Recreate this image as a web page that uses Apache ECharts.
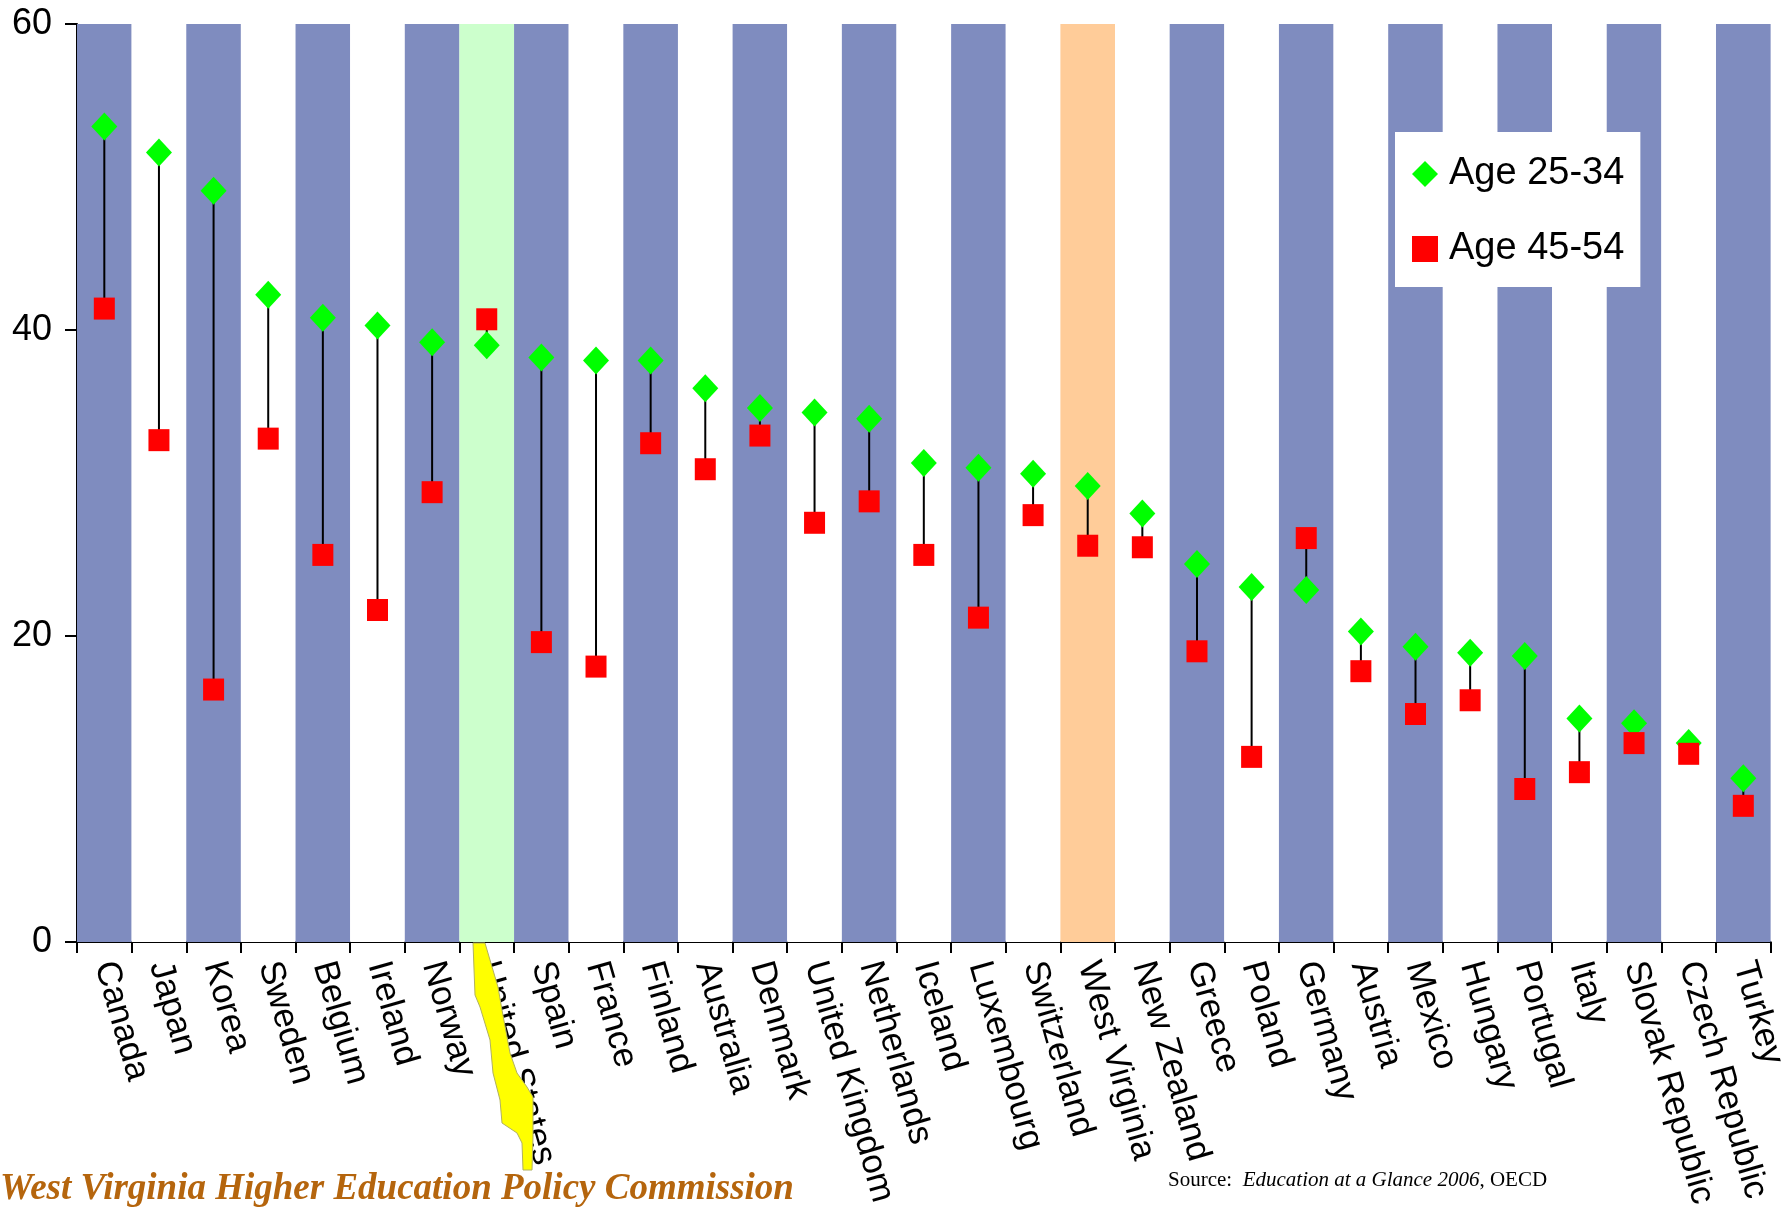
<!DOCTYPE html>
<html>
<head>
<meta charset="utf-8">
<script src="https://cdn.jsdelivr.net/npm/echarts@6/dist/echarts.min.js"></script>
<style>
html,body{margin:0;padding:0;background:#fff;}
#chart{width:1790px;height:1213px;}
</style>
</head>
<body>
<div id="chart"></div>
<script>
const categories = ['Canada','Japan','Korea','Sweden','Belgium','Ireland','Norway','United States','Spain','France','Finland','Australia','Denmark','United Kingdom','Netherlands','Iceland','Luxembourg','Switzerland','West Virginia','New Zealand','Greece','Poland','Germany','Austria','Mexico','Hungary','Portugal','Italy','Slovak Republic','Czech Republic','Turkey'];
const age25to34 = [53.3,51.6,49.1,42.3,40.8,40.3,39.2,39.0,38.2,38.0,38.0,36.2,34.9,34.6,34.2,31.3,31.0,30.6,29.8,28.0,24.7,23.2,23.0,20.3,19.3,18.9,18.7,14.6,14.3,13.0,10.7];
const age45to54 = [41.4,32.8,16.5,32.9,25.3,21.7,29.4,40.7,19.6,18.0,32.6,30.9,33.1,27.4,28.8,25.3,21.2,27.9,25.9,25.8,19.0,12.1,26.4,17.7,14.9,15.8,10.0,11.1,13.0,12.3,8.9];
const yTicks = [0, 20, 40, 60];
const highlightUS = 'United States';
const highlightWV = 'West Virginia';

const yMax = yTicks[yTicks.length - 1];
const bandColor = (name, i) => name === highlightUS ? '#ccffcc' : name === highlightWV ? '#ffcc99' : (i % 2 === 0 ? '#7f8cbf' : '#ffffff');

const chart = echarts.init(document.getElementById('chart'));
chart.setOption({
  animation: false,
  textStyle: {fontFamily: 'Liberation Sans, Arial, sans-serif'},
  grid: {left: 77, right: 14, top: 24, bottom: 271, containLabel: false},
  xAxis: {
    type: 'category',
    data: categories,
    boundaryGap: true,
    axisLine: {lineStyle: {color: '#000', width: 2}},
    axisTick: {show: true, length: 11, lineStyle: {color: '#000', width: 2}},
    axisLabel: {interval: 0, rotate: -74, fontSize: 35, color: '#000', margin: 20, fontFamily: 'Liberation Sans'}
  },
  yAxis: {
    type: 'value', min: 0, max: yMax, interval: 20,
    axisLine: {show: true, lineStyle: {color: '#000', width: 2}},
    axisTick: {show: true, length: 12, lineStyle: {color: '#000', width: 2}},
    axisLabel: {fontSize: 36, color: '#000', margin: 25, fontFamily: 'Liberation Sans'},
    splitLine: {show: false}
  },
  legend: {
    orient: 'vertical', left: 1395, top: 132,
    backgroundColor: '#ffffff',
    padding: [20, 16, 16, 17],
    itemGap: 31, itemWidth: 26, itemHeight: 26,
    textStyle: {fontSize: 38, color: '#000', lineHeight: 44, padding: [0, 0, 0, 6], fontFamily: 'Liberation Sans'},
    data: [{name: 'Age 25-34', icon: 'diamond'}, {name: 'Age 45-54', icon: 'rect'}]
  },
  series: [
    {
      type: 'bar', silent: true, barWidth: '100%', barGap: '-100%', z: 0,
      data: categories.map((c, i) => ({value: yMax, itemStyle: {color: bandColor(c, i)}}))
    },
    {
      type: 'custom', silent: true, z: 2,
      data: categories.map((c, i) => [i, age25to34[i], age45to54[i]]),
      renderItem: function (params, api) {
        const p1 = api.coord([api.value(0), api.value(1)]);
        const p2 = api.coord([api.value(0), api.value(2)]);
        return {type: 'line', shape: {x1: p1[0], y1: p1[1], x2: p2[0], y2: p2[1]}, style: {stroke: '#000', lineWidth: 2}};
      }
    },
    {
      name: 'Age 25-34', type: 'scatter', symbol: 'diamond', symbolSize: [26, 28], z: 3,
      itemStyle: {color: '#00ff00', opacity: 1}, data: age25to34
    },
    {
      name: 'Age 45-54', type: 'scatter', symbol: 'rect', symbolSize: [21, 22], z: 4,
      itemStyle: {color: '#ff0000', opacity: 1}, data: age45to54
    }
  ],
  graphic: [
    {
      type: 'polygon', z: 100,
      shape: {points: [[473,943],[475,995],[480,1007],[490,1040],[493,1073],[500,1100],[502,1123],[517,1133],[522,1143],[523,1170],[532,1170],[533,1137],[533,1097],[527,1087],[517,1073],[510,1053],[502,1010],[498,987],[490,960],[485,943]]},
      style: {fill: '#ffff00', stroke: '#b0b060', lineWidth: 1}
    },
    {
      type: 'text', left: 0, top: 1171, z: 100,
      style: {text: 'West Virginia Higher Education Policy Commission', font: 'italic bold 37px "Liberation Serif", "Times New Roman", serif', fill: '#b5650d'}
    },
    {
      type: 'text', left: 1168, top: 1170, z: 100,
      style: {
        text: 'Source:  {i|Education at a Glance 2006}, OECD',
        font: '21px "Liberation Serif", "Times New Roman", serif', fill: '#000',
        rich: {i: {fontStyle: 'italic', fontSize: 21, fontFamily: 'Liberation Serif'}}
      }
    }
  ]
});
</script>
</body>
</html>
